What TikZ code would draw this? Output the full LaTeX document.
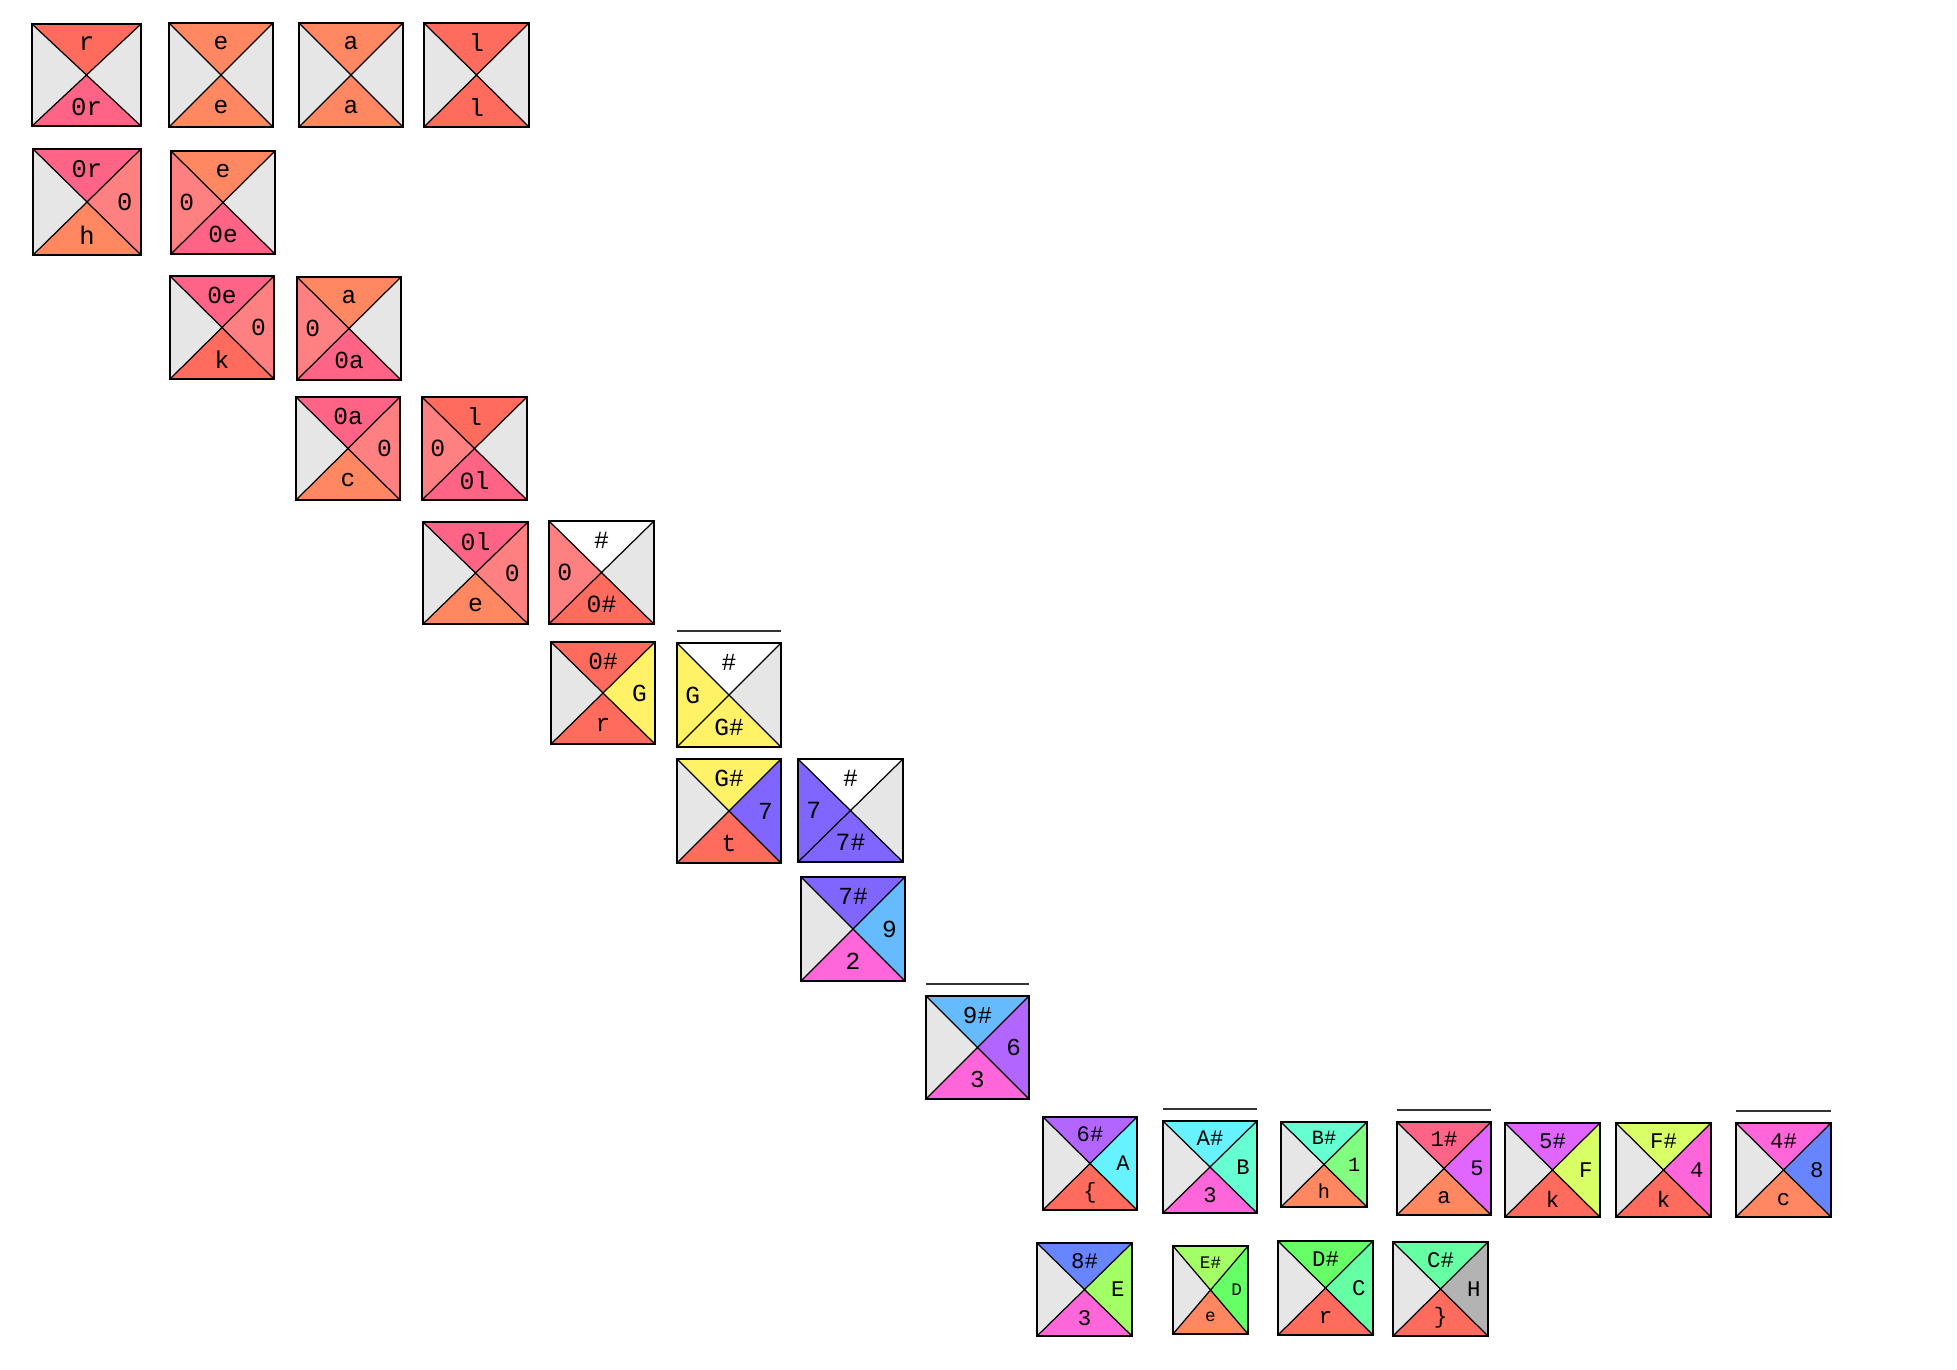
\documentclass[tikz,border=0pt]{standalone}
\usepackage{fontspec}
\setmonofont{Liberation Mono}
\usetikzlibrary{calc,fit}

\definecolor{tblank}{HTML}{E6E6E6}
\definecolor{tred}{HTML}{FF6C5E}
\definecolor{tpink}{HTML}{FF6487}
\definecolor{torange}{HTML}{FF8862}
\definecolor{tcoral}{HTML}{FF8080}
\definecolor{tyellow}{HTML}{FFF266}
\definecolor{tviolet}{HTML}{8066FF}
\definecolor{tsky}{HTML}{66BBFF}
\definecolor{tmagenta}{HTML}{FF66D9}
\definecolor{tpurple}{HTML}{B366FF}
\definecolor{tcyan}{HTML}{66F2FF}
\definecolor{taqua}{HTML}{66FFD1}
\definecolor{tlgreen}{HTML}{80FF80}
\definecolor{torchid}{HTML}{E066FF}
\definecolor{tlime}{HTML}{D9FF66}
\definecolor{tblue}{HTML}{6685FF}
\definecolor{tgreeny}{HTML}{A3FF66}
\definecolor{tgreen}{HTML}{66FF66}
\definecolor{tmint}{HTML}{66FFA3}
\definecolor{tgray}{HTML}{B3B3B3}

\begin{document}
\begin{tikzpicture}[
    x=0.01cm, y=-0.01cm,
    tilebox/.style={rectangle, inner sep=0pt, outer sep=0pt},
    frame/.style={draw=black, line width=0.65pt},
    diag/.style={draw=black, line width=0.35pt},
    lab/.style={inner sep=0pt, text=black},
    overline/.style={draw=black!80, line width=0.45pt}
]
\useasboundingbox (0,0) rectangle (1957,1369);

% Tiles: name / corners / colours (top, right, bottom, left) / labels
\foreach \n/\xa/\ya/\xb/\yb/\ct/\cr/\cb/\cl/\lt/\lr/\lb/\ll in {
    1/32/24/141/126/tred/tblank/tpink/tblank/r//0r/,
    2/169/23/273/127/torange/tblank/torange/tblank/e//e/,
    3/299/23/403/127/torange/tblank/torange/tblank/a//a/,
    4/424/23/529/127/tred/tblank/tred/tblank/l//l/,
    5/33/149/141/255/tpink/tcoral/torange/tblank/0r/0/h/,
    6/171/151/275/254/torange/tblank/tpink/tcoral/e//0e/0,
    7/170/276/274/379/tpink/tcoral/tred/tblank/0e/0/k/,
    8/297/277/401/380/torange/tblank/tpink/tcoral/a//0a/0,
    9/296/397/400/500/tpink/tcoral/torange/tblank/0a/0/c/,
    10/422/397/527/500/tred/tblank/tpink/tcoral/l//0l/0,
    11/423/522/528/624/tpink/tcoral/torange/tblank/0l/0/e/,
    12/549/521/654/624/white/tblank/tred/tcoral/\#//0\#/0,
    13/551/642/655/744/tred/tyellow/tred/tblank/0\#/G/r/,
    14/677/643/781/747/white/tblank/tyellow/tyellow/\#//G\#/G,
    15/677/759/781/863/tyellow/tviolet/tred/tblank/G\#/7/t/,
    16/798/759/903/862/white/tblank/tviolet/tviolet/\#//7\#/7,
    17/801/877/905/981/tviolet/tsky/tmagenta/tblank/7\#/9/2/,
    18/926/996/1029/1099/tsky/tpurple/tmagenta/tblank/9\#/6/3/,
    19/1043/1117/1137/1210/tpurple/tcyan/tred/tblank/6\#/A/\{/,
    20/1163/1121/1257/1213/tcyan/taqua/tmagenta/tblank/A\#/B/3/,
    21/1281/1122/1367/1207/taqua/tlgreen/torange/tblank/B\#/1/h/,
    22/1397/1122/1491/1215/tpink/torchid/torange/tblank/1\#/5/a/,
    23/1505/1123/1600/1217/torchid/tlime/tred/tblank/5\#/F/k/,
    24/1616/1123/1711/1217/tlime/tmagenta/tred/tblank/F\#/4/k/,
    25/1736/1123/1831/1217/tmagenta/tblue/torange/tblank/4\#/8/c/,
    26/1037/1243/1132/1336/tblue/tgreeny/tmagenta/tblank/8\#/E/3/,
    27/1173/1246/1248/1334/tgreeny/tgreen/torange/tblank/E\#/D/e/,
    28/1278/1241/1373/1335/tgreen/tmint/tred/tblank/D\#/C/r/,
    29/1393/1242/1488/1336/tmint/tgray/tred/tblank/C\#/H/\}/}
{
    \pgfmathsetmacro\fs{0.067*(\xb-\xa)}
    \node[tilebox, fit={(\xa,\ya) (\xb,\yb)}] (t\n) {};
    \fill[fill=\ct] (t\n.north west) -- (t\n.north east) -- (t\n.center) -- cycle;
    \fill[fill=\cr] (t\n.north east) -- (t\n.south east) -- (t\n.center) -- cycle;
    \fill[fill=\cb] (t\n.south east) -- (t\n.south west) -- (t\n.center) -- cycle;
    \fill[fill=\cl] (t\n.south west) -- (t\n.north west) -- (t\n.center) -- cycle;
    \draw[diag] (t\n.north west) -- (t\n.south east) (t\n.north east) -- (t\n.south west);
    \draw[frame] (t\n.north west) rectangle (t\n.south east);
    \ifx\lt\empty\else
        \node[lab, font=\ttfamily\fontsize{\fs}{\fs}\selectfont] (t\n-n) at ($(t\n.north)!0.38!(t\n.center)$) {\lt};
    \fi
    \ifx\lr\empty\else
        \node[lab, font=\ttfamily\fontsize{\fs}{\fs}\selectfont] (t\n-e) at ($(t\n.east)!0.3!(t\n.center)$) {\lr};
    \fi
    \ifx\lb\empty\else
        \node[lab, font=\ttfamily\fontsize{\fs}{\fs}\selectfont] (t\n-s) at ($(t\n.south)!0.38!(t\n.center)$) {\lb};
    \fi
    \ifx\ll\empty\else
        \node[lab, font=\ttfamily\fontsize{\fs}{\fs}\selectfont] (t\n-w) at ($(t\n.west)!0.3!(t\n.center)$) {\ll};
    \fi
}

% Bars over the starting tiles
\foreach \n in {14,18,20,22,25}
    \draw[overline] ([yshift=0.12cm]t\n.north west) -- ([yshift=0.12cm]t\n.north east);

\end{tikzpicture}
\end{document}
